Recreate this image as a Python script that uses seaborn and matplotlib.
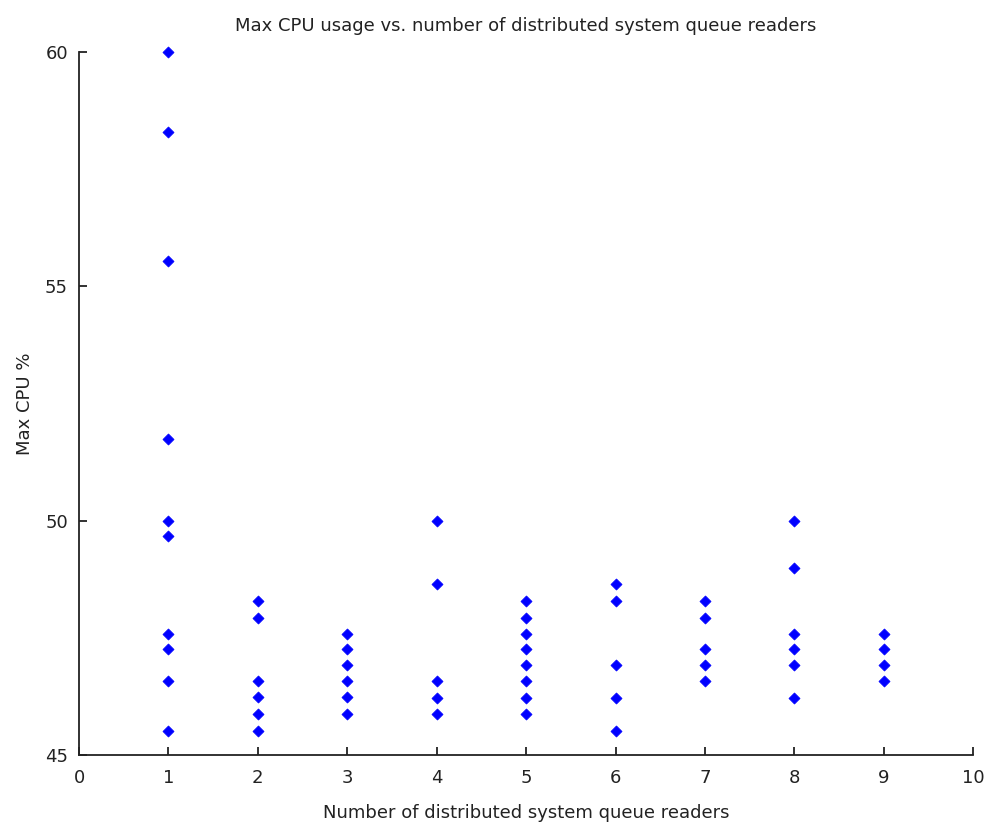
import matplotlib
matplotlib.use("Agg")
import matplotlib.pyplot as plt
import seaborn as sns
import pandas as pd

readers = [1]*10 + [2]*6 + [3]*6 + [4]*5 + [5]*8 + [6]*5 + [7]*5 + [8]*6 + [9]*4
max_cpu = [
    60.0, 58.29, 55.53, 51.75, 50.0, 49.68, 47.59, 47.27, 46.57, 45.52,
    48.29, 47.93, 46.58, 46.23, 45.87, 45.52,
    47.59, 47.27, 46.92, 46.58, 46.23, 45.87,
    50.0, 48.64, 46.57, 46.22, 45.87,
    48.29, 47.93, 47.58, 47.27, 46.92, 46.57, 46.22, 45.87,
    48.64, 48.29, 46.92, 46.22, 45.52,
    48.29, 47.93, 47.27, 46.92, 46.57,
    50.0, 48.98, 47.58, 47.27, 46.92, 46.22,
    47.58, 47.27, 46.92, 46.57,
]
x_ticks = list(range(0, 11))
y_ticks = [45, 50, 55, 60]

df = pd.DataFrame({"readers": readers, "cpu": max_cpu})

sns.set_style("white", {"xtick.direction": "in", "ytick.direction": "in",
                        "xtick.bottom": True, "ytick.left": True})
plt.rcParams['font.family'] = ['DejaVu Sans']
plt.rcParams['xtick.direction'] = 'in'
plt.rcParams['ytick.direction'] = 'in'

fig = plt.figure(figsize=(9.84, 8.25), dpi=100)
ax = fig.add_axes([0.0803, 0.0848, 0.9087, 0.8525])
sns.scatterplot(data=df, x="readers", y="cpu", ax=ax, marker="D", s=32,
                color="#0000ff", edgecolor="#0000ff", linewidth=0.5, clip_on=False)
ax.set_xlim(0, 10)
ax.set_ylim(45, 60)
ax.set_xticks(x_ticks)
ax.set_yticks(y_ticks)
for s in ["top", "right"]:
    ax.spines[s].set_visible(False)
for s in ["left", "bottom"]:
    ax.spines[s].set_color("#222222")
    ax.spines[s].set_linewidth(1.3)
ax.tick_params(axis="both", which="both", bottom=True, left=True, top=False, right=False,
               direction="in", length=6, width=1.3, color="#222222",
               labelsize=13, labelcolor="#222222")
ax.tick_params(axis="x", pad=10)
ax.tick_params(axis="y", pad=8)
ax.set_xlabel("Number of distributed system queue readers", fontsize=13, color="#222222", labelpad=12)
ax.set_ylabel("Max CPU %", fontsize=13, color="#222222", labelpad=8)
ax.set_title("Max CPU usage vs. number of distributed system queue readers", fontsize=13, color="#222222", pad=15)
fig.savefig("out.png", dpi=100)
